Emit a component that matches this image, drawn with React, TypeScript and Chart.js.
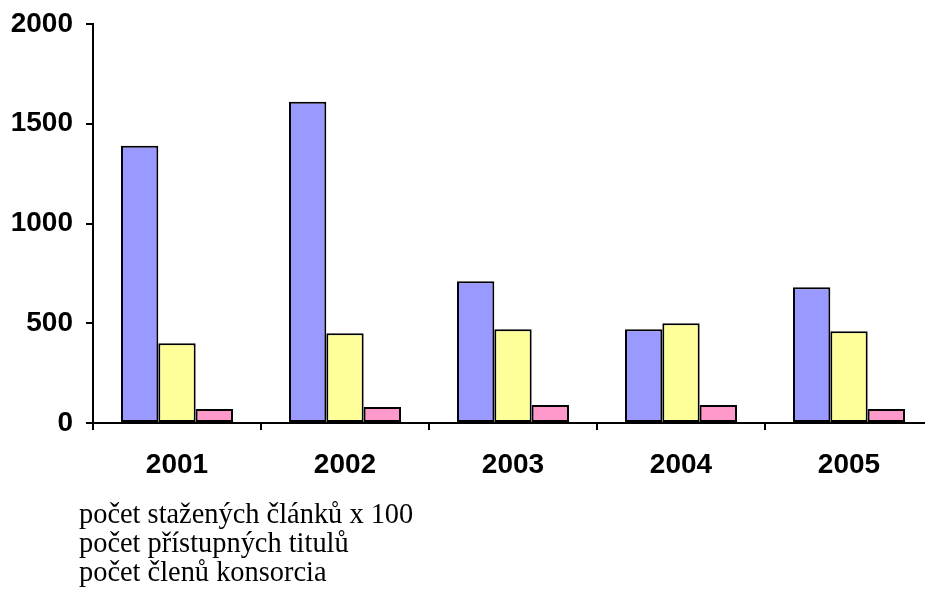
import React, { useEffect, useRef } from "react";
import { Chart, registerables } from "chart.js";

Chart.register(...registerables);

const categories = ["2001", "2002", "2003", "2004", "2005"];
const seriesNames = [
  "počet stažených článků x 100",
  "počet přístupných titulů",
  "počet členů konsorcia",
];
const downloadedArticles = [1390, 1610, 710, 470, 680];
const accessibleTitles = [400, 450, 470, 500, 460];
const consortiumMembers = [70, 80, 90, 90, 70];
const yTicks = [0, 500, 1000, 1500, 2000];

const colors = ["#9999FF", "#FFFF99", "#FF99CC"];

export default function App() {
  const ref = useRef<HTMLCanvasElement | null>(null);

  useEffect(() => {
    if (!ref.current) return;
    const values = [downloadedArticles, accessibleTitles, consortiumMembers];
    const chart = new Chart(ref.current, {
      type: "bar",
      data: {
        labels: categories,
        datasets: seriesNames.map((name, i) => ({
          label: name,
          data: values[i],
          backgroundColor: colors[i],
          borderColor: "#000000",
          borderWidth: 2,
          borderSkipped: false,
          categoryPercentage: 2 / 3,
          barPercentage: 1,
        })),
      },
      options: {
        animation: false,
        responsive: false,
        maintainAspectRatio: false,
        layout: { padding: { top: 24, right: 7, bottom: 0, left: 0 } },
        plugins: { legend: { display: false }, tooltip: { enabled: false } },
        scales: {
          x: {
            grid: {
              drawOnChartArea: false,
              color: "#000000",
              lineWidth: 2,
              tickLength: 7,
            },
            border: { color: "#000000", width: 2 },
            ticks: {
              color: "#000000",
              padding: 18,
              font: { family: "'Liberation Sans', Arial, sans-serif", size: 28, weight: "bold" },
            },
            afterFit: (axis: any) => {
              axis.height = 77;
              axis.paddingLeft = 0;
              axis.paddingRight = 0;
            },
          },
          y: {
            min: 0,
            max: 2000,
            afterBuildTicks: (axis: any) => {
              axis.ticks = yTicks.map((v) => ({ value: v }));
            },
            grid: {
              drawOnChartArea: false,
              color: "#000000",
              lineWidth: 2,
              tickLength: 7,
            },
            border: { color: "#000000", width: 2 },
            ticks: {
              color: "#000000",
              padding: 13,
              callback: (v: any) => String(v),
              font: { family: "'Liberation Sans', Arial, sans-serif", size: 28, weight: "bold" },
            },
            afterFit: (axis: any) => {
              axis.width = 93;
              axis.paddingTop = 0;
              axis.paddingBottom = 0;
            },
          },
        },
      },
    });
    return () => chart.destroy();
  }, []);

  return (
    <div
      style={{
        position: "fixed",
        left: 0,
        top: 0,
        width: 925,
        height: 601,
        overflow: "hidden",
        background: "#ffffff",
      }}
    >
      <canvas
        ref={ref}
        width={940}
        height={500}
        style={{ position: "absolute", left: 0, top: 0, width: 940, height: 500 }}
      />
      <div
        style={{
          position: "absolute",
          left: 79,
          top: 499,
          fontFamily: "'Liberation Serif', 'Times New Roman', serif",
          fontSize: 28.4,
          lineHeight: "29px",
          color: "#000000",
          whiteSpace: "nowrap",
        }}
      >
        {seriesNames.map((n) => (
          <div key={n}>{n}</div>
        ))}
      </div>
    </div>
  );
}
